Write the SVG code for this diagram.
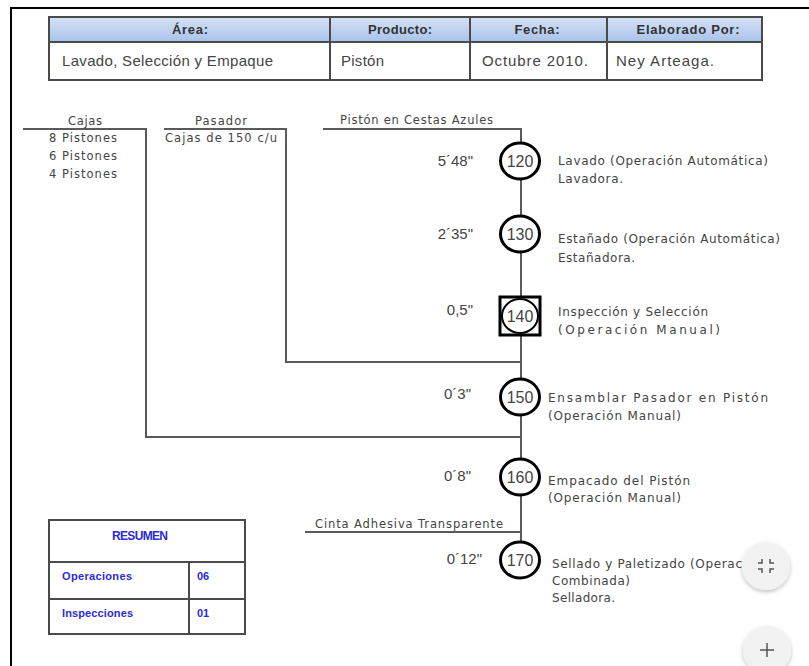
<svg xmlns="http://www.w3.org/2000/svg" width="809" height="666" viewBox="0 0 809 666">
<defs>
<linearGradient id="hdr" x1="0" y1="0" x2="0" y2="1">
<stop offset="0" stop-color="#d6e2f5"/>
<stop offset="1" stop-color="#a9c2ea"/>
</linearGradient>
<filter id="sh" x="-50%" y="-50%" width="200%" height="200%">
<feDropShadow dx="0" dy="2" stdDeviation="2" flood-color="#000" flood-opacity="0.25"/>
</filter>
<style>
.frame{stroke:#000;stroke-width:2;fill:none}
.tb{stroke:#4a4a4a;stroke-width:2;fill:none}
.th{font-family:"Liberation Sans",Arial,sans-serif;font-size:13px;font-weight:bold;fill:#333;text-anchor:middle}
.td{font-family:"Liberation Sans",Arial,sans-serif;font-size:15px;fill:#444}
.flow{stroke:#5a5a5a;stroke-width:2;fill:none}
.lbl{font-family:"DejaVu Sans",Verdana,sans-serif;font-size:11.5px;fill:#444}
.time{font-family:"Liberation Sans",Arial,sans-serif;font-size:15px;fill:#444;text-anchor:end}
.op{fill:#fff;stroke:#000;stroke-width:3}
.num{font-family:"Liberation Sans",Arial,sans-serif;font-size:16px;fill:#444;text-anchor:middle}
.desc{font-family:"DejaVu Sans",Verdana,sans-serif;font-size:12px;fill:#444}
.sum{font-family:"Liberation Sans",Arial,sans-serif;font-weight:bold;fill:#2b2bd9}
.btn{fill:#f2f2f2}
.ico{stroke:#555;stroke-width:1.5;fill:none}
</style>
</defs>
<rect width="809" height="666" fill="#fff"/>
<g id="frame">
<path class="frame" d="M11,666 V8 H809"/>
</g>
<g id="header-table">
<rect x="49" y="17" width="713" height="25" fill="url(#hdr)"/>
<rect x="49" y="42" width="713" height="38" fill="#fff"/>
<rect class="tb" x="49" y="17" width="713" height="63"/>
<line class="tb" x1="49" y1="42" x2="762" y2="42"/>
<line class="tb" x1="330" y1="17" x2="330" y2="80"/>
<line class="tb" x1="470" y1="17" x2="470" y2="80"/>
<line class="tb" x1="607" y1="17" x2="607" y2="80"/>
<text class="th" x="190" y="34" textLength="36">Área:</text>
<text class="th" x="400" y="34" textLength="64">Producto:</text>
<text class="th" x="537" y="34" textLength="45">Fecha:</text>
<text class="th" x="688" y="34" textLength="103">Elaborado Por:</text>
<text class="td" x="62" y="66" textLength="211">Lavado, Selección y Empaque</text>
<text class="td" x="341" y="66" textLength="43">Pistón</text>
<text class="td" x="482" y="66" textLength="106">Octubre 2010.</text>
<text class="td" x="616" y="66" textLength="98">Ney Arteaga.</text>
</g>
<g id="connectors">
<path class="flow" d="M23,129 H146 V437 H521"/>
<path class="flow" d="M164,129 H286 V362 H521"/>
<path class="flow" d="M323,129 H521 V560"/>
<path class="flow" d="M305,532 H521"/>
</g>
<g id="input-cajas">
<text class="lbl" x="85" y="125" text-anchor="middle" textLength="34">Cajas</text>
<text class="lbl" x="49" y="142" textLength="68">8 Pistones</text>
<text class="lbl" x="49" y="160" textLength="68">6 Pistones</text>
<text class="lbl" x="49" y="178" textLength="68">4 Pistones</text>
</g>
<g id="input-pasador">
<text class="lbl" x="221" y="125" text-anchor="middle" textLength="52">Pasador</text>
<text class="lbl" x="165" y="142" textLength="112">Cajas de 150  c/u</text>
</g>
<g id="input-piston">
<text class="lbl" x="340" y="124" textLength="153">Pistón en Cestas Azules</text>
</g>
<g id="input-cinta">
<text class="lbl" x="315" y="528" textLength="188">Cinta Adhesiva Transparente</text>
</g>
<g id="op-120">
<ellipse class="op" cx="520" cy="161" rx="19.5" ry="18"/>
<text class="num" x="520" y="167">120</text>
<text class="time" x="473" y="166">5´48"</text>
<text class="desc" x="558" y="165" textLength="210">Lavado (Operación Automática)</text>
<text class="desc" x="558" y="183" textLength="65">Lavadora.</text>
</g>
<g id="op-130">
<ellipse class="op" cx="520" cy="234" rx="19.5" ry="18"/>
<text class="num" x="520" y="240">130</text>
<text class="time" x="473" y="239">2´35"</text>
<text class="desc" x="558" y="243" textLength="222">Estañado  (Operación Automática)</text>
<text class="desc" x="558" y="262" textLength="77">Estañadora.</text>
</g>
<g id="insp-140">
<rect x="500" y="297" width="40" height="38" fill="#fff" stroke="#000" stroke-width="3"/>
<ellipse cx="520" cy="316" rx="18" ry="17" fill="#fff" stroke="#000" stroke-width="2"/>
<text class="num" x="520" y="322">140</text>
<text class="time" x="473" y="315">0,5"</text>
<text class="desc" x="558" y="316" textLength="150">Inspección y Selección</text>
<text class="desc" x="558" y="334" textLength="162">(Operación Manual)</text>
</g>
<g id="op-150">
<ellipse class="op" cx="520" cy="397" rx="19.5" ry="18"/>
<text class="num" x="520" y="403">150</text>
<text class="time" x="471" y="399">0´3"</text>
<text class="desc" x="548" y="402" textLength="220">Ensamblar Pasador en Pistón</text>
<text class="desc" x="548" y="420" textLength="133">(Operación Manual)</text>
</g>
<g id="op-160">
<ellipse class="op" cx="520" cy="477" rx="19.5" ry="18"/>
<text class="num" x="520" y="483">160</text>
<text class="time" x="471" y="481">0´8"</text>
<text class="desc" x="548" y="485" textLength="142">Empacado  del Pistón</text>
<text class="desc" x="548" y="502" textLength="133">(Operación Manual)</text>
</g>
<g id="op-170">
<ellipse class="op" cx="520" cy="560" rx="19.5" ry="18"/>
<text class="num" x="520" y="566">170</text>
<text class="time" x="482" y="564">0´12"</text>
<text class="desc" x="552" y="568" textLength="190">Sellado y Paletizado  (Operac</text>
<text class="desc" x="552" y="585" textLength="78">Combinada)</text>
<text class="desc" x="552" y="602" textLength="63">Selladora.</text>
</g>
<g id="resumen">
<rect class="tb" x="49" y="520" width="196" height="114" fill="#fff" stroke="#333"/>
<line class="tb" x1="49" y1="562" x2="245" y2="562" stroke="#333"/>
<line class="tb" x1="49" y1="599" x2="245" y2="599" stroke="#333"/>
<line class="tb" x1="189" y1="562" x2="189" y2="634" stroke="#333"/>
<text class="sum" x="140" y="540" font-size="12" text-anchor="middle" textLength="56">RESUMEN</text>
<text class="sum" x="62" y="580" font-size="11" textLength="70">Operaciones</text>
<text class="sum" x="197" y="580" font-size="11">06</text>
<text class="sum" x="62" y="617" font-size="11" textLength="71">Inspecciones</text>
<text class="sum" x="197" y="617" font-size="11">01</text>
</g>
<g id="btn-collapse">
<circle class="btn" cx="766" cy="566" r="24" filter="url(#sh)"/>
<path class="ico" d="M762,559 V563 H758 M770,559 V563 H774 M758,569 H762 V573 M774,569 H770 V573"/>
</g>
<g id="btn-plus">
<circle class="btn" cx="767" cy="650" r="24" filter="url(#sh)"/>
<path class="ico" d="M767,643 V657 M760,650 H774" stroke-width="1.8"/>
</g>
</svg>
